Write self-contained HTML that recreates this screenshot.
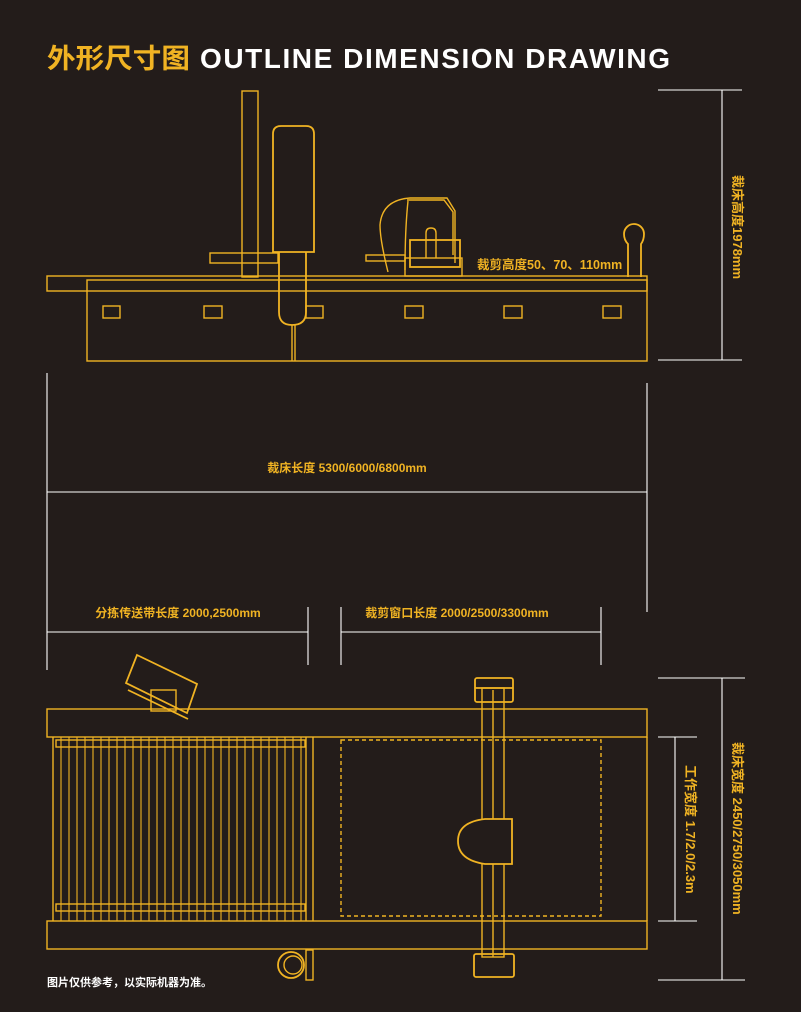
<!DOCTYPE html>
<html><head><meta charset="utf-8"><style>
html,body{margin:0;padding:0;background:#231c1a;}
svg{display:block;}
text{font-family:"Liberation Sans","Noto Sans CJK SC",sans-serif;font-weight:bold;}
</style></head><body>
<svg width="801" height="1012" viewBox="0 0 801 1012" xmlns="http://www.w3.org/2000/svg">
<rect width="801" height="1012" fill="#231c1a"/>
<text x="47" y="68" font-size="27" fill="#f0b323" textLength="143" lengthAdjust="spacingAndGlyphs">外形尺寸图</text>
<text x="200" y="68" font-size="28" fill="#fff" textLength="470" lengthAdjust="spacing">OUTLINE DIMENSION DRAWING</text>

<g fill="none" stroke="#f0b323" stroke-width="1.4">
<!-- side view -->
<rect x="242" y="91" width="16" height="186"/>
<rect x="210" y="253" width="68" height="10"/>
<path d="M273,252 V134 Q273,126 281,126 H306 Q314,126 314,134 V252 Z" stroke-width="1.8"/>
<path d="M279,252 V312 Q279,325 292,325 Q306,325 306,312 V252" stroke-width="1.8"/>
<line x1="292" y1="325" x2="292" y2="361"/><line x1="295" y1="325" x2="295" y2="361"/>
<rect x="47" y="276" width="600" height="15"/>
<rect x="87" y="280" width="560" height="81"/>
<rect x="103" y="306" width="17" height="12"/><rect x="204" y="306" width="18" height="12"/>
<rect x="306" y="306" width="17" height="12"/><rect x="405" y="306" width="18" height="12"/>
<rect x="504" y="306" width="18" height="12"/><rect x="603" y="306" width="18" height="12"/>
<path d="M388,272 Q380,240 380,225 Q382,200 410,198 H447 L455,211 V263"/>
<path d="M407,200 L444,200 L453,212 V255 M408,201 Q405,230 405,270"/>
<rect x="410" y="240" width="50" height="27" stroke-width="1.8"/>
<path d="M426,258 V233 Q426,228 431,228 Q436,228 436,233 V258"/>
<rect x="366" y="255" width="39" height="6"/>
<rect x="405" y="258" width="57" height="18"/>
<path d="M628,277 V244 Q624,240 624,234 A10,10 0 1 1 644,234 Q644,240 641,244 V277" stroke-width="1.8"/>

<!-- top view -->
<rect x="47" y="709" width="600" height="28"/>
<rect x="47" y="921" width="600" height="28"/>
<line x1="647" y1="737" x2="647" y2="921"/>
<line x1="53" y1="737" x2="53" y2="921"/>
<line x1="306" y1="737" x2="306" y2="921"/><line x1="313" y1="737" x2="313" y2="921"/>
<rect x="56" y="740" width="249" height="7"/>
<rect x="56" y="904" width="249" height="7"/>
<g stroke-width="1.1">
<line x1="61" y1="737" x2="61" y2="921"/><line x1="69" y1="737" x2="69" y2="921"/><line x1="77" y1="737" x2="77" y2="921"/><line x1="85" y1="737" x2="85" y2="921"/><line x1="93" y1="737" x2="93" y2="921"/><line x1="101" y1="737" x2="101" y2="921"/><line x1="109" y1="737" x2="109" y2="921"/><line x1="117" y1="737" x2="117" y2="921"/><line x1="125" y1="737" x2="125" y2="921"/><line x1="133" y1="737" x2="133" y2="921"/><line x1="141" y1="737" x2="141" y2="921"/><line x1="149" y1="737" x2="149" y2="921"/><line x1="157" y1="737" x2="157" y2="921"/><line x1="165" y1="737" x2="165" y2="921"/><line x1="173" y1="737" x2="173" y2="921"/><line x1="181" y1="737" x2="181" y2="921"/><line x1="189" y1="737" x2="189" y2="921"/><line x1="197" y1="737" x2="197" y2="921"/><line x1="205" y1="737" x2="205" y2="921"/><line x1="213" y1="737" x2="213" y2="921"/><line x1="221" y1="737" x2="221" y2="921"/><line x1="229" y1="737" x2="229" y2="921"/><line x1="237" y1="737" x2="237" y2="921"/><line x1="245" y1="737" x2="245" y2="921"/><line x1="253" y1="737" x2="253" y2="921"/><line x1="261" y1="737" x2="261" y2="921"/><line x1="269" y1="737" x2="269" y2="921"/><line x1="277" y1="737" x2="277" y2="921"/><line x1="285" y1="737" x2="285" y2="921"/><line x1="293" y1="737" x2="293" y2="921"/><line x1="301" y1="737" x2="301" y2="921"/>
</g>
<rect x="341" y="740" width="260" height="176" stroke-dasharray="4,3"/>
<rect x="482" y="688" width="22" height="269"/>
<line x1="493" y1="690" x2="493" y2="957"/>
<rect x="475" y="678" width="38" height="24" rx="2" stroke-width="1.8"/>
<line x1="475" y1="688" x2="513" y2="688" stroke-width="1.8"/>
<rect x="474" y="954" width="40" height="23" rx="2" stroke-width="1.8"/>
<path d="M512,819 H485 Q458,822 458,841 Q458,860 485,864 H512 Z" fill="#231c1a" stroke-width="1.8"/>
<polygon points="137,655 197,684 187,713 126,683" stroke-width="1.8"/>
<line x1="128" y1="690" x2="188" y2="719" stroke-width="1.8"/>
<rect x="151" y="690" width="25" height="21"/>
<circle cx="291" cy="965" r="13" stroke-width="1.8"/>
<circle cx="293" cy="965" r="9"/>
<rect x="306" y="950" width="7" height="30"/>
</g>

<g stroke="#ffffff" stroke-width="1.1" fill="none">
<line x1="658" y1="90" x2="742" y2="90"/><line x1="658" y1="360" x2="742" y2="360"/><line x1="722" y1="90" x2="722" y2="360"/>
<line x1="47" y1="373" x2="47" y2="670"/><line x1="647" y1="383" x2="647" y2="612"/>
<line x1="47" y1="492" x2="647" y2="492"/>
<line x1="47" y1="632" x2="308" y2="632"/>
<line x1="308" y1="607" x2="308" y2="665"/><line x1="341" y1="607" x2="341" y2="665"/><line x1="601" y1="607" x2="601" y2="665"/>
<line x1="341" y1="632" x2="601" y2="632"/>
<line x1="658" y1="678" x2="745" y2="678"/><line x1="658" y1="980" x2="745" y2="980"/><line x1="722" y1="678" x2="722" y2="980"/>
<line x1="658" y1="737" x2="697" y2="737"/><line x1="658" y1="921" x2="697" y2="921"/><line x1="675" y1="737" x2="675" y2="921"/>
</g>

<g fill="#f0b323" font-size="12">
<text x="477" y="269" font-size="12.5">裁剪高度50、70、110mm</text>
<text x="347" y="472" text-anchor="middle">裁床长度 5300/6000/6800mm</text>
<text x="178" y="617" text-anchor="middle">分拣传送带长度 2000,2500mm</text>
<text x="457" y="617" text-anchor="middle">裁剪窗口长度 2000/2500/3300mm</text>
<text transform="translate(733,175) rotate(90)" font-size="13">裁床高度1978mm</text>
<text transform="translate(733,742) rotate(90)" font-size="13">裁床宽度 2450/2750/3050mm</text>
<text transform="translate(686,765) rotate(90)" font-size="13">工作宽度 1.7/2.0/2.3m</text>
</g>
<text x="47" y="986" font-size="11" fill="#fff">图片仅供参考，以实际机器为准。</text>
</svg>
</body></html>
